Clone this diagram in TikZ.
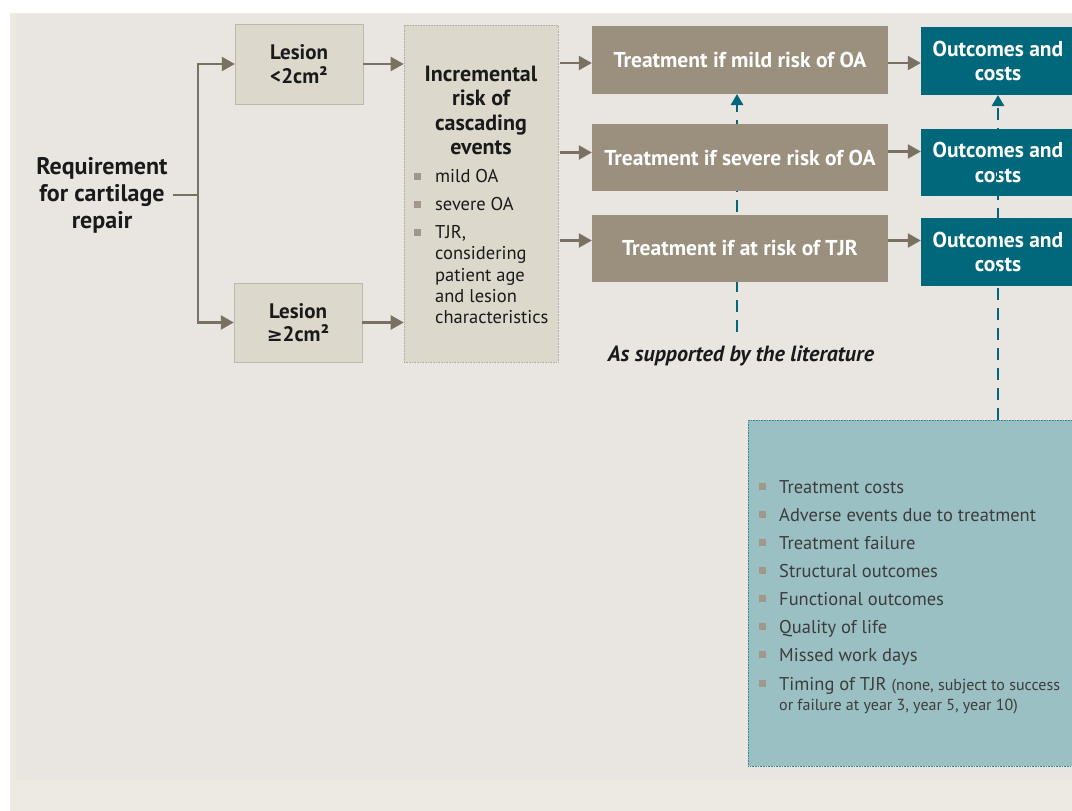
\documentclass[tikz,border=0pt]{standalone}
\usepackage{fontspec}
\setmainfont{PT Sans}
\newfontfamily\symfont{DejaVu Sans}
\usetikzlibrary{arrows.meta}
\definecolor{pagebg}{HTML}{EDEAE2}
\definecolor{panel}{HTML}{E9E6E2}
\definecolor{lightbox}{HTML}{DDD8CC}
\definecolor{taupe}{HTML}{9B907E}
\definecolor{arrowc}{HTML}{797162}
\definecolor{tealc}{HTML}{00687A}
\definecolor{lteal}{HTML}{9BC0C4}
\definecolor{bulc}{HTML}{A0988A}
\definecolor{txt}{HTML}{1A1A1A}
\tikzset{
  x=1pt, y=-1pt,
  lbox/.style={rectangle, fill=lightbox, draw=lightbox!85!black, line width=0.4pt, align=center, text=txt,
    font=\fontsize{21}{23.5}\selectfont\bfseries, inner sep=0pt},
  tbox/.style={rectangle, fill=taupe, align=center, text=white, minimum width=296, minimum height=68,
    font=\fontsize{21.5}{24}\selectfont\bfseries, inner sep=0pt},
  obox/.style={rectangle, fill=tealc, align=center, text=white, minimum width=154, minimum height=68,
    font=\fontsize{21.5}{24.5}\selectfont\bfseries, inner sep=0pt},
  flow/.style={draw=arrowc, line width=2.4pt, -{Triangle[length=13pt,width=14pt]}},
  plain/.style={draw=arrowc, line width=2.4pt},
  tdash/.style={draw=tealc, line width=2.6pt, dash pattern=on 12pt off 8pt, -{Triangle[length=11pt,width=12pt]}},
  bul/.style={rectangle, fill=bulc, minimum size=7pt, inner sep=0pt},
  itm/.style={anchor=base west, inner sep=0pt, text=txt, font=\fontsize{18.5}{21}\selectfont},
  itm2/.style={anchor=base west, inner sep=0pt, text=txt!85, font=\fontsize{18.5}{21}\selectfont},
}
\begin{document}
\begin{tikzpicture}
\useasboundingbox (0,0) rectangle (1072,811);
\fill[white] (0,0) rectangle (1072,811);
\fill[pagebg] (10,13) rectangle (1072,811);
\fill[panel] (16,14) rectangle (1072,780);

% left text
\node[align=center, text=txt, font=\fontsize{24}{27}\selectfont\bfseries, inner sep=0pt] (req) at (102,195) {Requirement\\for cartilage\\repair};
\coordinate (fork) at (198,195);

% lesion boxes
\node[lbox, minimum width=128, minimum height=80] (l1) at (299,64) {Lesion\\<2cm²};
\node[lbox, minimum width=128, minimum height=79] (l2) at (298,322.5) {Lesion\\{\symfont\fontsize{19}{23}\selectfont ≥}2cm²};

% incremental box
\node[rectangle, fill=lightbox, draw=lightbox!80!black, densely dotted, line width=0.6pt, minimum width=154, minimum height=337, inner sep=0pt] (inc) at (481,193.5) {};
\node[align=center, text=txt, font=\fontsize{22}{24.5}\selectfont\bfseries, inner sep=0pt] (inct) at (481,110.5) {Incremental\\risk of\\cascading\\events};
\node[itm] (i1) at (435,182) {mild OA};
\node[itm] (i2) at (435,210) {severe OA};
\node[itm, align=left] (i3) at (435,238) {TJR,};
\node[itm, align=left] (i4) at (435,259.5) {considering};
\node[itm, align=left] (i5) at (435,281) {patient age};
\node[itm, align=left] (i6) at (435,302) {and lesion};
\node[itm, align=left] (i7) at (435,323.5) {characteristics};
\node[bul] (b1) at (417,176) {};
\node[bul] (b2) at (417,204) {};
\node[bul] (b3) at (417,232) {};

% dashed literature line (behind treatment boxes)
\coordinate (litc) at (737,332);
\coordinate (t1b) at (737,94);
\draw[tdash] (litc) -- (t1b);
\node[font=\fontsize{22}{24}\selectfont\bfseries\itshape, text=txt, inner sep=0pt] (lit) at (741,356) {As supported by the literature};

% treatment boxes
\node[tbox] (t1) at (740,60) {Treatment if mild risk of OA};
\node[tbox, minimum height=67] (t2) at (740,157.5) {Treatment if severe risk of OA};
\node[tbox, minimum height=67] (t3) at (740,248.5) {Treatment if at risk of TJR};

% outcome boxes
\node[obox] (o1) at (998,61) {Outcomes and\\costs};
\node[obox, minimum height=67] (o2) at (998,162.5) {Outcomes and\\costs};
\node[obox, minimum height=68] (o3) at (998,252) {Outcomes and\\costs};

% arrows
\draw[plain] (req.east) ++(5,0) -- (fork);
\draw[flow] (fork) |- (l1.west);
\draw[flow] (fork) |- (l2.west);
\draw[flow] (l1.east) -- (inc.west |- l1.east);
\draw[flow] (l2.east) -- (inc.west |- l2.east);
\draw[flow] (inc.east |- t1.west) ++(2,3) -- ([yshift=-3pt]t1.west);
\draw[flow] (inc.east |- t2.west) ++(2,-5) -- ([yshift=5pt]t2.west);
\draw[flow] (inc.east |- t3.west) ++(2,-8) -- ([yshift=8pt]t3.west);
\draw[flow] ([yshift=-3pt]t1.east) -- ([yshift=-3pt]t1.east -| o1.west);
\draw[flow] ([yshift=6pt]t2.east) -- ([yshift=6pt]t2.east -| o2.west);
\draw[flow] ([yshift=8pt]t3.east) -- ([yshift=8pt]t3.east -| o3.west);

% bottom outcomes list box
\node[rectangle, fill=lteal, draw=tealc!80, densely dotted, line width=0.6pt, minimum width=327, minimum height=346, inner sep=0pt, anchor=north west] (lst) at (748,420) {};
\coordinate (lsttop) at (998,420);
\coordinate (o1b) at (998,95);
\draw[tdash] (lsttop) -- (o1b);

\foreach \yy/\tt [count=\k] in {493/Treatment costs, 521/Adverse events due to treatment, 549/Treatment failure, 577/Structural outcomes, 605/Functional outcomes, 633/Quality of life, 661/Missed work days}{
  \node[bul] (lb\k) at (762,\yy-7) {};
  \node[itm2] (li\k) at (779,\yy) {\tt};
}
\node[bul] (lb8) at (762,683) {};
\node[itm2] (li8) at (779,690) {Timing of TJR {\fontsize{16}{18}\selectfont(none, subject to success}};
\node[itm2, font=\fontsize{16}{18}\selectfont] (li9) at (779,710) {or failure at year 3, year 5, year 10)};
\end{tikzpicture}
\end{document}
